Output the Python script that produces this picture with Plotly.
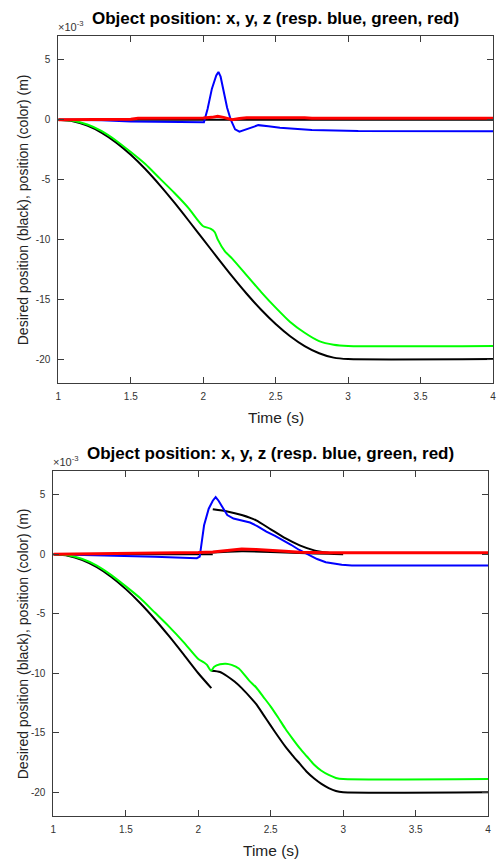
import plotly.graph_objects as go

# ---- data (units of 1e-3 m) ----
title_text = "Object position: x, y, z (resp. blue, green, red)"
x_ticks = [1, 1.5, 2, 2.5, 3, 3.5, 4]
x_tick_text = ["1", "1.5", "2", "2.5", "3", "3.5", "4"]
y_ticks = [-20, -15, -10, -5, 0, 5]
y_tick_text = ["-20", "-15", "-10", "-5", "0", "5"]

# top panel
top_t_des = [1.0, 1.1, 1.2, 1.3, 1.4, 1.5, 1.6, 1.7, 1.8, 1.9, 2.0,
             2.1, 2.2, 2.3, 2.4, 2.5, 2.6, 2.7, 2.8, 2.9, 3.0, 4.0]
top_y_des = [0, -0.12, -0.49, -1.09, -1.91, -2.93, -4.12, -5.46, -6.91, -8.44, -10.0,
             -11.56, -13.09, -14.54, -15.88, -17.07, -18.09, -18.91, -19.51, -19.88, -20.0, -20.0]
top_t_zero = [1.0, 4.0]
top_v_zero = [0, 0]

top_t_green = [1.0, 1.1, 1.2, 1.3, 1.4, 1.5, 1.6, 1.7, 1.8, 1.9, 1.95, 2.0, 2.05, 2.08, 2.1,
               2.15, 2.2, 2.3, 2.4, 2.5, 2.6, 2.7, 2.8, 2.9, 3.0, 4.0]
top_y_green = [0, -0.08, -0.4, -0.95, -1.75, -2.7, -3.7, -4.9, -6.1, -7.4, -8.2, -8.9, -9.1, -9.4, -10.0,
               -11.0, -11.6, -13.0, -14.4, -15.7, -16.9, -17.8, -18.5, -18.8, -18.9, -18.9]

top_t_blue = [1.0, 1.3, 1.5, 1.8, 2.0, 2.005, 2.03, 2.06, 2.09, 2.105, 2.12, 2.14, 2.165,
              2.19, 2.22, 2.25, 2.3, 2.38, 2.45, 2.53, 2.75, 3.07, 4.0]
top_x_blue = [0, -0.05, -0.15, -0.2, -0.25, -0.2, 0.9, 2.6, 3.7, 4.0, 3.6, 2.4, 1.0,
              0.0, -0.8, -1.0, -0.8, -0.45, -0.55, -0.67, -0.85, -0.94, -0.95]

top_t_red = [1.0, 1.5, 1.55, 1.8, 2.0, 2.06, 2.1, 2.14, 2.2, 2.25, 2.3, 2.7, 2.75, 4.0]
top_z_red = [0.0, 0.05, 0.12, 0.12, 0.15, 0.2, 0.3, 0.2, 0.0, 0.1, 0.17, 0.17, 0.12, 0.12]

# bottom panel
bot_t_des1 = [1.0, 1.1, 1.2, 1.3, 1.4, 1.5, 1.6, 1.7, 1.8, 1.9, 2.0, 2.09]
bot_y_des1 = [0, -0.12, -0.49, -1.09, -1.91, -2.93, -4.12, -5.46, -6.91, -8.44, -10.0, -11.25]
bot_t_des2 = [2.09, 2.15, 2.2, 2.25, 2.3, 2.35, 2.4, 2.45, 2.5, 2.55, 2.6, 2.65, 2.7,
              2.75, 2.8, 2.85, 2.9, 2.95, 3.0, 4.0]
bot_y_des2 = [-9.8, -9.9, -10.25, -10.7, -11.25, -11.9, -12.6, -13.5, -14.4, -15.3, -16.15, -16.9, -17.6,
              -18.3, -18.85, -19.3, -19.65, -19.9, -20.0, -20.0]
bot_t_zero = [1.0, 2.1]
bot_v_zero = [0, 0]
bot_t_xdes2 = [2.1, 2.2, 2.3, 2.4, 2.5, 2.6, 2.7, 2.8, 2.9]
bot_x_des2 = [3.78, 3.6, 3.3, 2.85, 2.1, 1.35, 0.75, 0.33, 0.12]
bot_t_zdes2 = [2.1, 2.3, 2.5, 2.7, 2.9, 3.0]
bot_z_des2 = [0.15, 0.25, 0.2, 0.1, 0.05, 0.0]

bot_t_green = [1.0, 1.1, 1.2, 1.3, 1.4, 1.5, 1.6, 1.7, 1.8, 1.9, 2.0, 2.04, 2.06, 2.088, 2.11,
               2.15, 2.19, 2.23, 2.28, 2.35, 2.4, 2.45, 2.5, 2.55, 2.6, 2.65, 2.7, 2.75,
               2.8, 2.85, 2.9, 2.95, 3.0, 4.0]
bot_y_green = [0, -0.08, -0.4, -0.95, -1.75, -2.7, -3.7, -4.9, -6.1, -7.4, -8.8, -9.1, -9.3, -9.8, -9.45,
               -9.25, -9.2, -9.3, -9.6, -10.6, -11.2, -12.0, -12.8, -13.7, -14.65, -15.5, -16.3, -17.0,
               -17.7, -18.2, -18.55, -18.8, -18.9, -18.9]

bot_t_blue = [1.0, 1.4, 1.7, 1.99, 2.01, 2.04, 2.072, 2.1, 2.12, 2.14, 2.175, 2.2, 2.243, 2.3,
              2.357, 2.41, 2.47, 2.53, 2.584, 2.64, 2.697, 2.765, 2.82, 2.88, 2.94, 2.99, 3.06, 4.0]
bot_x_blue = [0, -0.1, -0.2, -0.33, -0.2, 2.44, 3.83, 4.5, 4.8, 4.5, 3.83, 3.3, 3.0, 2.85,
              2.67, 2.35, 1.9, 1.55, 1.2, 0.8, 0.36, -0.05, -0.4, -0.67, -0.82, -0.89, -0.94, -0.95]

bot_t_red = [1.0, 1.5, 1.9, 2.0, 2.1, 2.2, 2.3, 2.4, 2.5, 2.6, 2.7, 2.9, 4.0]
bot_z_red = [0.0, 0.05, 0.1, 0.15, 0.2, 0.35, 0.45, 0.4, 0.35, 0.25, 0.17, 0.12, 0.12]

W, H = 497, 861
FONT = "Liberation Sans"
AX_COL = "#3c3c3c"


def line(t, v, color, width, ax, shape="linear"):
    return go.Scatter(x=t, y=v, mode="lines", xaxis=ax[0], yaxis=ax[1],
                      line=dict(color=color, width=width, shape=shape, smoothing=0.6),
                      showlegend=False, hoverinfo="skip", cliponaxis=False)


fig = go.Figure()
top = ("x", "y")
bot = ("x2", "y2")

fig.add_trace(line(top_t_zero, top_v_zero, "black", 2, top))
fig.add_trace(line(top_t_des, top_y_des, "black", 2, top, "spline"))
fig.add_trace(line(top_t_blue, top_x_blue, "#0000ff", 2, top))
fig.add_trace(line(top_t_green, top_y_green, "#00ff00", 2, top, "spline"))
fig.add_trace(line(top_t_red, top_z_red, "#ff0000", 3, top))

fig.add_trace(line(bot_t_zero, bot_v_zero, "black", 2, bot))
fig.add_trace(line(bot_t_des1, bot_y_des1, "black", 2, bot, "spline"))
fig.add_trace(line(bot_t_des2, bot_y_des2, "black", 2, bot, "spline"))
fig.add_trace(line(bot_t_xdes2, bot_x_des2, "black", 2, bot, "spline"))
fig.add_trace(line(bot_t_zdes2, bot_z_des2, "black", 2, bot, "spline"))
fig.add_trace(line(bot_t_blue, bot_x_blue, "#0000ff", 2, bot))
fig.add_trace(line(bot_t_green, bot_y_green, "#00ff00", 2, bot, "spline"))
fig.add_trace(line(bot_t_red, bot_z_red, "#ff0000", 3, bot))

xstyle = dict(range=[1, 4], tickvals=x_ticks, ticktext=x_tick_text,
              ticks="inside", ticklen=6, tickcolor=AX_COL, showline=True, linecolor=AX_COL,
              linewidth=1, mirror="allticks", showgrid=False, zeroline=False,
              ticklabelstandoff=4, ticklabeloverflow="allow",
              tickfont=dict(family=FONT, size=10, color="#333"))
ystyle = dict(range=[-22, 7], tickvals=y_ticks, ticktext=y_tick_text, ticks="inside", ticklen=6,
              tickcolor=AX_COL, showline=True, linecolor=AX_COL, linewidth=1, mirror="allticks",
              showgrid=False, zeroline=False, ticklabelstandoff=5,
              tickfont=dict(family=FONT, size=10, color="#333"))

# panel boxes in pixels: (left, right, top, bottom)
top_box = (56, 496, 36, 383)
bot_box = (51, 491, 471, 816)


def dom(box):
    l, r, t, b = box
    return [l / W, r / W], [1 - b / H, 1 - t / H]


tx, ty = dom(top_box)
bx, by = dom(bot_box)

fig.update_layout(
    width=W, height=H, margin=dict(l=0, r=0, t=0, b=0),
    paper_bgcolor="white", plot_bgcolor="white",
    xaxis=dict(domain=tx, anchor="y", **xstyle),
    yaxis=dict(domain=ty, anchor="x", **ystyle),
    xaxis2=dict(domain=bx, anchor="y2", **xstyle),
    yaxis2=dict(domain=by, anchor="x2", **ystyle),
)

ann = []
for box in (top_box, bot_box):
    l, r, t, b = box
    cx = (l + r) / 2 / W
    ann.append(dict(text="<b>" + title_text + "</b>", x=cx, y=1 - (t - 18) / H,
                    font=dict(family=FONT, size=17, color="black")))
    ann.append(dict(text="×10<sup>-3</sup>", x=(l - 2) / W, y=1 - (t - 10) / H, xanchor="left",
                    font=dict(family=FONT, size=11, color="#333")))
    ann.append(dict(text="Time (s)", x=cx, y=1 - (b + 34) / H,
                    font=dict(family=FONT, size=15.5, color="#222")))
    ann.append(dict(text="Desired position (black), position (color) (m)", x=20 / W,
                    y=1 - (t + b) / 2 / H, textangle=-90,
                    font=dict(family=FONT, size=14, color="#222")))
for a in ann:
    a.update(xref="paper", yref="paper", showarrow=False)
    a.setdefault("xanchor", "center")
    a.setdefault("yanchor", "middle")
fig.update_layout(annotations=ann)

fig.write_html("out.html", config={"displayModeBar": False},
               post_script="document.body.style.margin='0';")
